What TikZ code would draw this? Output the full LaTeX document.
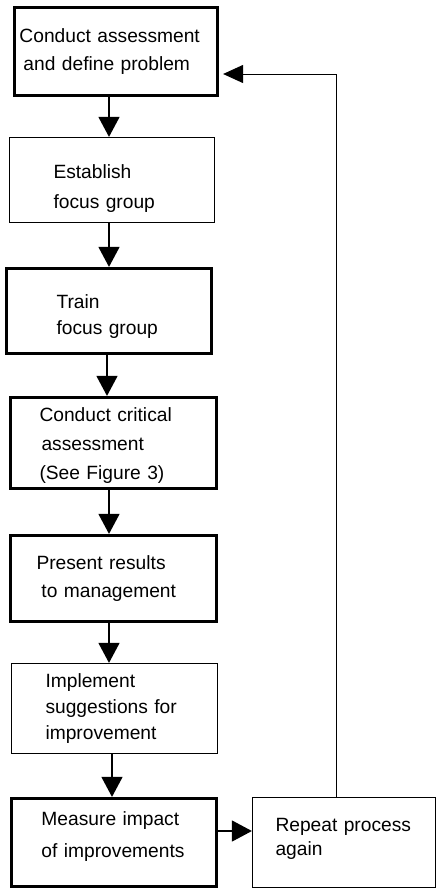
\documentclass[tikz,border=0pt]{standalone}
\usepackage{fontspec}
\setmainfont{Liberation Sans}
\usetikzlibrary{arrows.meta}

\begin{document}
\begin{tikzpicture}[x=1pt, y=-1pt,
    font=\fontsize{19.2}{28}\selectfont,
    box/.style={draw, rectangle, align=left, inner ysep=0pt},
    thickbox/.style={box, line width=3.2pt},
    thinbox/.style={box, line width=1.2pt},
    flow/.style={line width=1.3pt, -{Triangle[width=21pt,length=20pt]}}]
    \useasboundingbox (0,0) rectangle (436,889);
    % steps
    \node[thickbox, minimum width=203pt, minimum height=88pt, inner xsep=5pt, text width=193pt] (assess) at (116,51.5) {Conduct assessment\\\hspace{4pt}and define problem};
    \node[thinbox, minimum width=205pt, minimum height=85pt, inner xsep=44pt, text width=117pt] (establish) at (112,180) {\rule{0pt}{30pt}Establish\\[2pt]focus group};
    \node[thickbox, minimum width=205pt, minimum height=85pt, inner xsep=50pt, text width=105pt] (train) at (109,311) {\rule{0pt}{24pt}Train\\[-2pt]focus group};
    \node[thickbox, minimum width=206pt, minimum height=91pt, inner xsep=29pt, text width=148pt] (critical) at (113.5,443) {\rule{0pt}{19pt}Conduct critical\\[1pt]\hspace{2pt}assessment\\[1pt](See Figure 3)};
    \node[thickbox, minimum width=206pt, minimum height=86pt, inner xsep=26pt, text width=154pt] (present) at (113.5,578.5) {Present results\\\hspace{5pt}to management};
    \node[thinbox, minimum width=206pt, minimum height=90pt, inner xsep=34pt, text width=138pt] (implement) at (114.5,708.5) {Implement\\[-2pt]suggestions for\\[-2pt]improvement};
    \node[thickbox, minimum width=205pt, minimum height=88pt, inner xsep=30pt, text width=145pt] (measure) at (114,842.5) {Measure impact\\[4pt]of improvements\rule[-15pt]{0pt}{1pt}};
    \node[thinbox, minimum width=183pt, minimum height=90pt, inner xsep=23pt, text width=137pt] (redo) at (344,842.5) {Repeat process\\[-4pt]again\rule[-11pt]{0pt}{1pt}};
    % arrows down
    \draw[flow] ([xshift=-7pt]assess.south) -- ([xshift=-3pt]establish.north);
    \draw[flow] ([xshift=-3pt]establish.south) -- (train.north);
    \draw[flow] ([xshift=-2pt]train.south) -- ([xshift=-6.5pt]critical.north);
    \draw[flow] ([xshift=-4.5pt]critical.south) -- ([xshift=-4.5pt]present.north);
    \draw[flow] ([xshift=-4.5pt]present.south) -- ([xshift=-5.5pt]implement.north);
    \draw[flow] ([xshift=-2.5pt]implement.south) -- ([xshift=-2pt]measure.north);
    \draw[flow] ([yshift=11.5pt]measure.east) -- ([yshift=11.5pt]redo.west);
    % back to the start
    \draw[line width=1pt, -{Triangle[width=18pt,length=20pt]}, shorten >=4pt] ([xshift=-8pt]redo.north) |- ([yshift=-22.5pt]assess.east);
\end{tikzpicture}
\end{document}
